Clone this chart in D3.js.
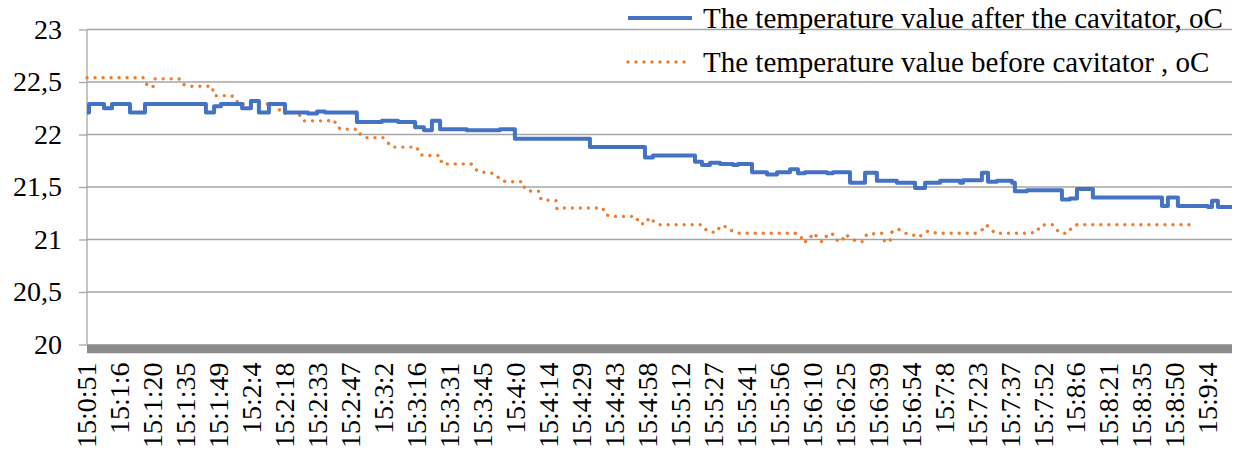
<html>

<head>
    <style>
        body { margin: 0; background: #fff; }
        .grid line { stroke: #a6a6a6; stroke-width: 1.3; }
        .yAxis path { display: none; }
        .yAxis line { stroke: #a6a6a6; stroke-width: 1.3; }
        .xAxis path, .xAxis line { display: none; }
        .afterLine { fill: none; stroke: #4472c4; stroke-width: 4; stroke-linejoin: round; }
        .beforeLine { fill: none; stroke: #ed7d31; stroke-width: 3.4; stroke-linecap: round; stroke-dasharray: 0.01 8; }
    </style>
</head>

<body>
    <svg id="container" width="1240" height="455"></svg>
</body>

<script src="https://cdn.jsdelivr.net/npm/d3@7"></script>
<script>
    // x values are seconds elapsed since 15:0:51
    let seriesNames = [
        "The temperature value after the cavitator, oC",
        "The temperature value before cavitator , oC"
    ];

    let tickLabels = ["15:0:51", "15:1:6", "15:1:20", "15:1:35", "15:1:49", "15:2:4", "15:2:18",
        "15:2:33", "15:2:47", "15:3:2", "15:3:16", "15:3:31", "15:3:45", "15:4:0", "15:4:14",
        "15:4:29", "15:4:43", "15:4:58", "15:5:12", "15:5:27", "15:5:41", "15:5:56", "15:6:10",
        "15:6:25", "15:6:39", "15:6:54", "15:7:8", "15:7:23", "15:7:37", "15:7:52", "15:8:6",
        "15:8:21", "15:8:35", "15:8:50", "15:9:4"];
    let tickStep = 14.5;   // seconds between labelled categories
    let timeEnd = 503.6;

    let yTicks = [20, 20.5, 21, 21.5, 22, 22.5, 23];

    // after the cavitator: step changes [sec, temp]
    let afterCavitator = [
        [0, 22.21], [0.9, 22.29], [7.5, 22.25], [11.0, 22.29], [18.9, 22.21], [25.5, 22.29],
        [52.3, 22.21], [55.9, 22.27], [58.9, 22.29], [68.2, 22.25], [72.1, 22.32], [75.6, 22.21],
        [80.0, 22.29], [87.1, 22.21], [97.2, 22.20], [101.2, 22.22], [104.7, 22.21], [118.7, 22.12],
        [129.7, 22.13], [136.8, 22.12], [144.3, 22.07], [148.2, 22.04], [151.7, 22.13], [155.3, 22.05],
        [167.1, 22.04], [181.6, 22.05], [188.2, 21.96], [221.2, 21.88], [245.4, 21.78], [248.9, 21.80],
        [267.4, 21.74], [270.5, 21.71], [274.0, 21.73], [278.4, 21.72], [284.1, 21.71], [286.3, 21.72],
        [292.5, 21.64], [299.1, 21.62], [303.5, 21.64], [309.2, 21.67], [312.7, 21.63], [315.8, 21.64],
        [325.5, 21.63], [328.1, 21.64], [335.6, 21.54], [342.2, 21.635], [347.4, 21.56], [356.2, 21.54],
        [364.2, 21.49], [368.6, 21.54], [375.2, 21.56], [384.0, 21.54], [385.3, 21.565], [393.6, 21.635],
        [396.3, 21.55], [400.2, 21.56], [406.8, 21.54], [408.1, 21.46], [413.4, 21.47], [428.8, 21.38],
        [432.3, 21.39], [435.4, 21.48], [442.4, 21.40], [472.8, 21.32], [475.4, 21.40], [479.8, 21.32],
        [493.0, 21.31], [494.8, 21.37], [497.4, 21.31], [503.6, 21.31]
    ];

    // before the cavitator [sec, temp]
    let beforeCavitator = [
        [0, 22.54], [25.1, 22.54], [26.4, 22.47], [29.0, 22.45], [29.9, 22.53], [40.5, 22.53],
        [41.8, 22.48], [44.9, 22.46], [55.0, 22.46], [55.9, 22.37], [63.3, 22.37], [65.5, 22.35],
        [66.4, 22.29], [83.6, 22.29], [85.3, 22.20], [92.4, 22.21], [94.1, 22.17], [95.0, 22.13],
        [106.0, 22.13], [108.6, 22.14], [110.0, 22.07], [112.1, 22.05], [119.2, 22.05], [120.5, 21.99],
        [123.1, 21.97], [130.2, 21.97], [132.4, 21.92], [134.1, 21.88], [145.1, 21.88], [146.0, 21.82],
        [147.8, 21.80], [155.2, 21.80], [156.1, 21.72], [168.9, 21.72], [170.6, 21.67], [173.3, 21.64],
        [176.8, 21.64], [179.9, 21.62], [181.6, 21.57], [184.3, 21.55], [191.8, 21.55], [192.6, 21.48],
        [195.3, 21.46], [198.8, 21.46], [199.7, 21.38], [206.3, 21.37], [206.7, 21.29], [209.8, 21.30],
        [226.9, 21.30], [227.8, 21.24], [230.5, 21.22], [241.5, 21.22], [242.8, 21.15], [245.9, 21.15],
        [247.2, 21.21], [249.4, 21.17], [251.6, 21.14], [270.5, 21.14], [271.8, 21.10], [274.0, 21.07],
        [277.1, 21.07], [278.4, 21.13], [281.5, 21.12], [282.8, 21.09], [286.8, 21.06], [311.4, 21.06],
        [314.0, 21.03], [314.9, 20.97], [318.0, 21.00], [318.9, 21.06], [321.1, 21.03], [323.3, 20.975],
        [325.5, 21.04], [327.7, 21.06], [329.0, 21.00], [332.0, 20.98], [333.4, 21.05], [335.6, 21.02],
        [338.6, 20.98], [341.3, 20.98], [343.0, 21.05], [349.6, 21.06], [350.9, 20.98], [353.2, 20.98],
        [354.0, 21.07], [356.7, 21.10], [359.8, 21.06], [362.8, 21.05], [365.5, 21.02], [367.7, 21.05],
        [369.9, 21.08], [373.8, 21.06], [391.4, 21.06], [393.6, 21.09], [395.4, 21.14], [397.1, 21.11],
        [399.3, 21.06], [413.9, 21.06], [417.8, 21.07], [419.1, 21.13], [421.3, 21.14], [424.8, 21.14],
        [426.6, 21.09], [428.4, 21.06], [431.5, 21.06], [433.2, 21.12], [435.4, 21.14], [485.1, 21.14]
    ];

    let svg = d3.select("#container");
    let plotLeft = 87, plotRight = 1232, plotTop = 29.5, plotBottom = 344.5;
    let serif = "'Liberation Serif', 'Times New Roman', Times, 'DejaVu Serif', serif";

    let xScale = d3.scaleLinear()
        .domain([0, timeEnd])
        .range([plotLeft, plotRight]);

    let yScale = d3.scaleLinear()
        .domain([20, 23])
        .range([plotBottom, plotTop]);

    // gridlines
    svg.append("g")
        .attr("class", "grid")
        .selectAll("line")
        .data(yTicks.slice(1))
        .join("line")
        .attr("x1", plotLeft)
        .attr("x2", plotRight)
        .attr("y1", d => yScale(d))
        .attr("y2", d => yScale(d));

    // y axis
    let yAxis = svg.append("g")
        .attr("class", "yAxis")
        .attr("transform", `translate(${plotLeft},0)`)
        .call(d3.axisLeft(yScale)
            .tickValues(yTicks)
            .tickSize(8)
            .tickPadding(17)
            .tickFormat(d => String(d).replace(".", ",")));
    yAxis.attr("font-family", null).attr("font-size", null);
    yAxis.selectAll("text").style("font-size", "28px");
    yAxis.append("line")
        .attr("x1", 0).attr("x2", 0)
        .attr("y1", plotTop).attr("y2", plotBottom);

    // thick category axis bar
    svg.append("line")
        .attr("x1", plotLeft)
        .attr("x2", plotRight)
        .attr("y1", plotBottom + 4.3)
        .attr("y2", plotBottom + 4.3)
        .attr("stroke", "#8c8c8c")
        .attr("stroke-width", 9);

    // x axis labels
    let xAxis = svg.append("g")
        .attr("class", "xAxis")
        .attr("transform", `translate(0,${plotBottom})`)
        .call(d3.axisBottom(xScale)
            .tickValues(tickLabels.map((d, i) => i * tickStep))
            .tickSize(0)
            .tickFormat((d, i) => tickLabels[i]));
    xAxis.attr("font-family", null).attr("font-size", null);
    xAxis.selectAll("text")
        .style("font-size", "28px")
        .attr("text-anchor", "end")
        .attr("transform", "translate(0,18) rotate(-90)")
        .attr("x", 0)
        .attr("y", 0)
        .attr("dy", "0.32em");

    // series
    let afterLine = d3.line()
        .x(d => xScale(d[0]))
        .y(d => yScale(d[1]))
        .curve(d3.curveStepAfter);

    let beforeLine = d3.line()
        .x(d => xScale(d[0]))
        .y(d => yScale(d[1]));

    svg.append("path")
        .datum(beforeCavitator)
        .attr("class", "beforeLine")
        .attr("d", beforeLine);

    svg.append("path")
        .datum(afterCavitator)
        .attr("class", "afterLine")
        .attr("d", afterLine);

    // legend
    let legend = svg.append("g");
    let legendRows = [
        { name: seriesNames[0], cls: "afterLine", y: 18 },
        { name: seriesNames[1], cls: "beforeLine", y: 62 }
    ];
    legendRows.forEach(r => {
        legend.append("line")
            .attr("class", r.cls)
            .attr("x1", 628).attr("x2", 692)
            .attr("y1", r.y).attr("y2", r.y);
        legend.append("text")
            .attr("x", 703)
            .attr("y", r.y)
            .attr("dy", "0.35em")
            .style("font-size", "29px")
            .text(r.name);
    });

    svg.selectAll("text")
        .style("font-family", serif)
        .style("fill", "#000");
</script>

</html>
